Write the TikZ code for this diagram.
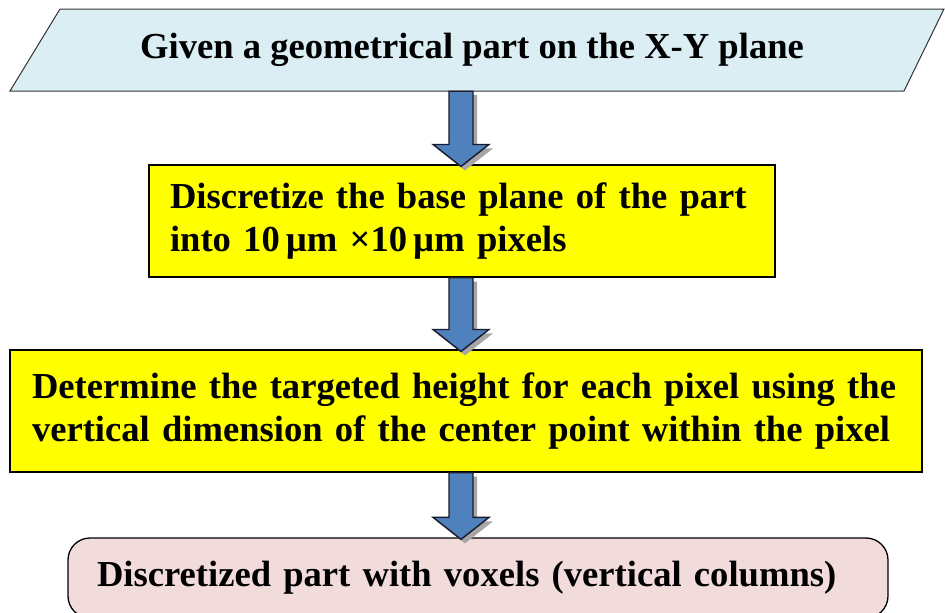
\documentclass[tikz,border=0pt]{standalone}
\usepackage{fontspec}
\setmainfont{Liberation Serif}
\usetikzlibrary{calc}
\definecolor{pblue}{HTML}{DAEEF3}
\definecolor{pink}{HTML}{F2DCDB}
\definecolor{ablue}{HTML}{4F81BD}
\definecolor{aedge}{HTML}{1A1A2E}
\definecolor{pyellow}{HTML}{FFFF00}
\newcommand\blkarrow[2]{%
 \fill[gray!70] let \p1=(#1.south), \p2=(#2.north) in [xshift=4pt,yshift=-4pt]
   (461pt-12pt,\y1) -- (461pt+12pt,\y1) -- (461pt+12pt,\y2+20pt) -- (461pt+28pt,\y2+20pt)
   -- (461pt,\y2-2pt) -- (461pt-28pt,\y2+20pt) -- (461pt-12pt,\y2+20pt) -- cycle;
 \draw[fill=ablue,draw=aedge,line width=1.4pt,line join=miter] let \p1=(#1.south), \p2=(#2.north) in
   (461pt-12pt,\y1) -- (461pt+12pt,\y1) -- (461pt+12pt,\y2+20pt) -- (461pt+28pt,\y2+20pt)
   -- (461pt,\y2-2pt) -- (461pt-28pt,\y2+20pt) -- (461pt-12pt,\y2+20pt) -- cycle;}
\begin{document}
\begin{tikzpicture}[x=1pt,y=-1pt,
  txt/.style={font=\bfseries\fontsize{36.6}{43}\selectfont,align=left,inner sep=0pt},
  ybox/.style={txt,draw=black,line width=1.1pt,fill=pyellow},
  pbox/.style={txt,draw=black,line width=1.3pt,fill=pink,rounded corners=22pt}]
\useasboundingbox (0,0) rectangle (945,613);
\fill[white] (0,0) rectangle (945,613);
\draw[fill=pblue,draw=black!80,line width=1pt] (60,9) -- (944,9) -- (904,91) -- (10,91) -- cycle;
\node[txt,align=center,minimum width=870pt,minimum height=82pt] (given) at (472,50) {Given a geometrical part on the X-Y plane};
\node[ybox,inner xsep=21pt,text width=584pt,minimum height=112pt] (disc) at (462,221)
  {\mbox{Discretize the base plane of the part}\\\mbox{into 10\,µm \texttimes10\,µm pixels}};
\node[ybox,inner xsep=22pt,text width=868pt,minimum height=122pt] (det) at (466,411)
  {\mbox{Determine the targeted height for each pixel using the}\\\mbox{vertical dimension of the center point within the pixel}};
\node[pbox,inner xsep=29pt,text width=762pt,minimum height=80pt] (res) at (478,578)
  {\mbox{Discretized part with voxels (vertical columns)}};
\blkarrow{given}{disc}
\blkarrow{disc}{det}
\blkarrow{det}{res}
\end{tikzpicture}
\end{document}
